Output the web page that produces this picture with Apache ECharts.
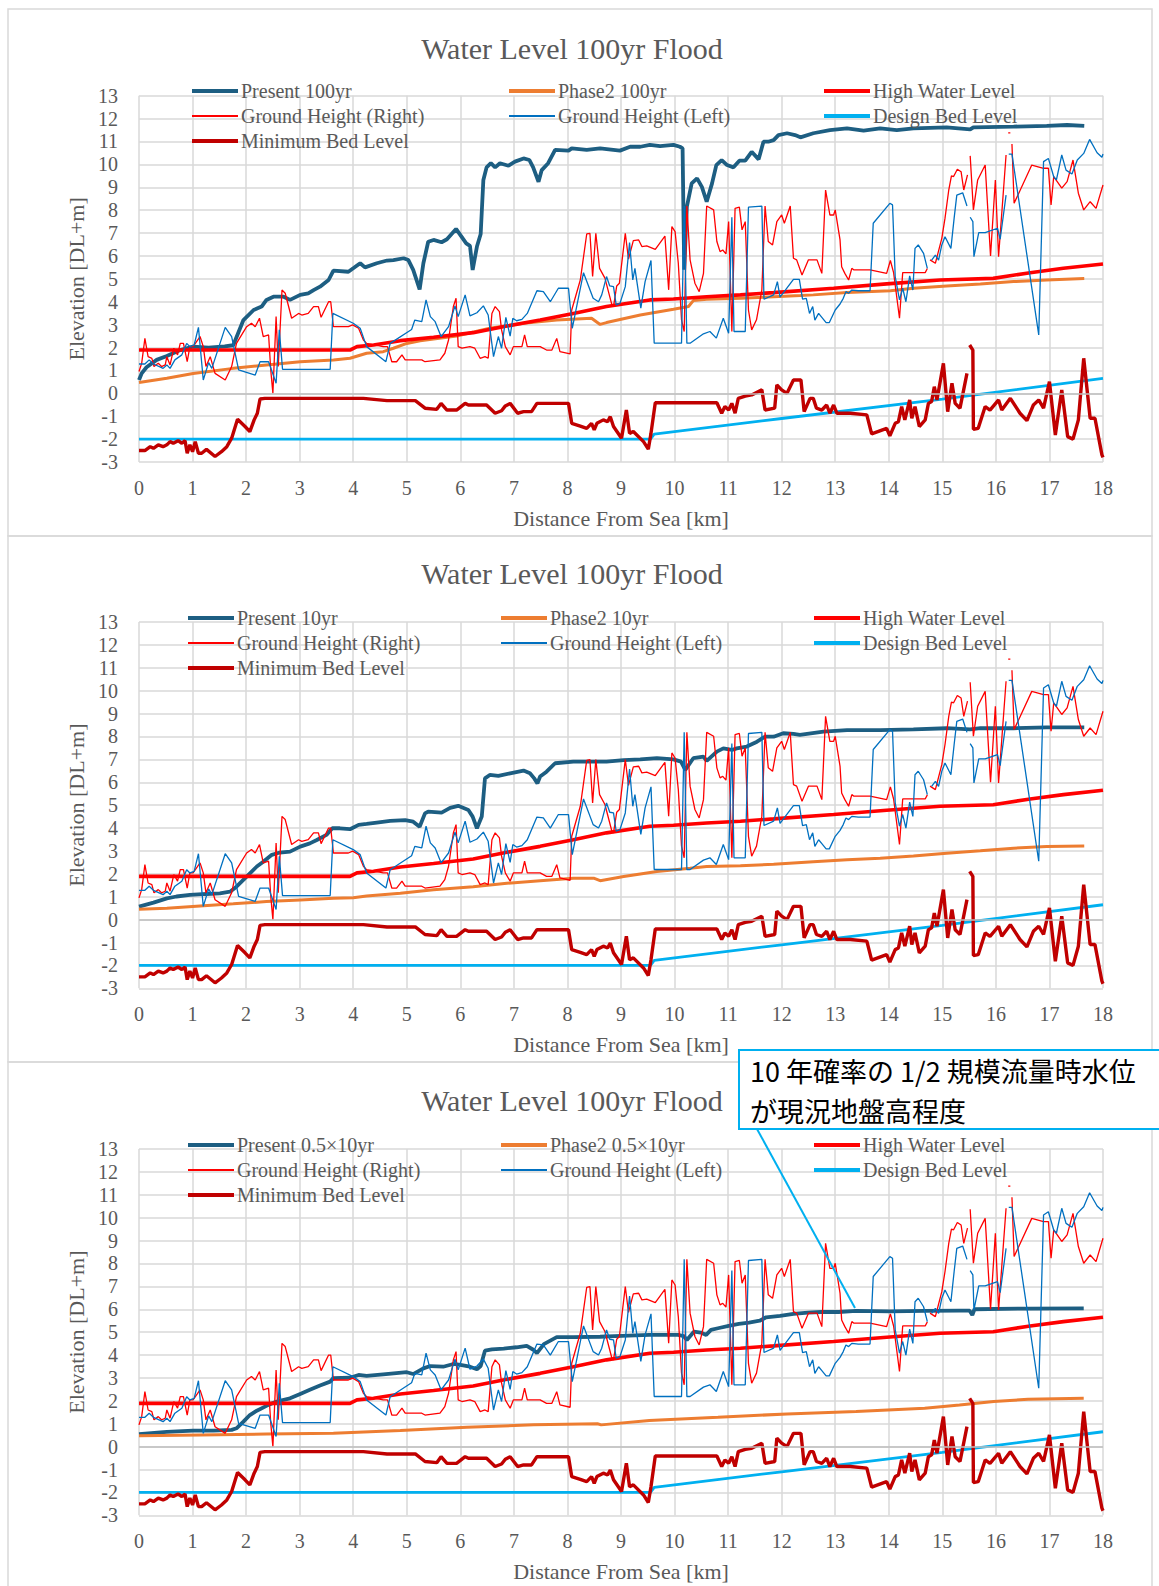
<!DOCTYPE html>
<html><head><meta charset="utf-8">
<script src="https://cdn.jsdelivr.net/npm/echarts@6/dist/echarts.min.js"></script>
<style>html,body{margin:0;padding:0;background:#fff}#c{width:1159px;height:1586px}</style>
</head><body><div id="c"></div>
<script>
// ---------- DATA (distance from sea [km], elevation [DL+m]) ----------
const xTicks = [0,1,2,3,4,5,6,7,8,9,10,11,12,13,14,15,16,17,18];
const yTicks = [-3,-2,-1,0,1,2,3,4,5,6,7,8,9,10,11,12,13];

const present100 = [[0,0.58],[0.05,0.87],[0.14,1.14],[0.33,1.46],[0.52,1.63],[0.77,1.89],[1.01,2.04],[1.3,2.0],[1.6,2.05],[1.76,2.1],[1.95,3.2],[2.14,3.64],[2.29,3.79],[2.38,4.08],[2.51,4.22],[2.7,4.22],[2.82,4.08],[3.01,4.3],[3.16,4.37],[3.26,4.51],[3.38,4.66],[3.54,4.95],[3.63,5.36],[3.91,5.31],[4.0,5.46],[4.13,5.68],[4.22,5.5],[4.44,5.68],[4.63,5.8],[4.75,5.82],[4.94,5.9],[5.03,5.82],[5.12,5.39],[5.24,4.54],[5.31,5.68],[5.4,6.62],[5.5,6.7],[5.65,6.6],[5.75,6.73],[5.92,7.18],[6.11,6.55],[6.18,6.44],[6.23,5.39],[6.31,6.41],[6.38,6.96],[6.43,9.32],[6.49,9.87],[6.57,10.05],[6.65,9.87],[6.74,10.05],[6.9,9.94],[7.02,10.12],[7.18,10.26],[7.29,10.19],[7.36,9.87],[7.46,9.24],[7.52,9.75],[7.64,10.05],[7.77,10.63],[8.02,10.6],[8.08,10.7],[8.36,10.63],[8.61,10.7],[8.98,10.6],[9.17,10.77],[9.36,10.77],[9.54,10.85],[9.73,10.8],[9.98,10.85],[10.1,10.77],[10.15,10.7],[10.18,5.4],[10.23,8.15],[10.32,9.17],[10.42,9.39],[10.51,9.02],[10.6,8.37],[10.7,9.17],[10.78,9.97],[10.88,10.19],[10.98,9.97],[11.1,9.87],[11.21,10.16],[11.32,10.16],[11.44,10.55],[11.57,10.22],[11.66,10.99],[11.75,10.99],[11.85,11.06],[11.94,11.28],[12.1,11.36],[12.25,11.28],[12.35,11.18],[12.59,11.36],[12.9,11.5],[13.22,11.57],[13.53,11.47],[13.84,11.57],[14.15,11.5],[14.46,11.57],[15.08,11.62],[15.52,11.53],[15.58,11.62],[16.33,11.65],[16.95,11.68],[17.33,11.72],[17.65,11.68]];

const phase2_100 = [[0,0.47],[0.52,0.66],[1.01,0.87],[1.76,1.09],[2.38,1.24],[3.01,1.38],[3.63,1.46],[3.94,1.53],[4.25,1.75],[4.56,1.82],[4.75,1.97],[5.0,2.18],[5.25,2.3],[5.5,2.37],[5.93,2.5],[6.55,2.84],[7.18,3.06],[7.8,3.2],[8.45,3.28],[8.61,3.01],[8.73,3.09],[9.36,3.42],[9.98,3.67],[10.26,3.79],[10.35,4.05],[10.6,4.11],[11.23,4.15],[11.85,4.22],[12.35,4.27],[12.59,4.3],[13.22,4.4],[14.03,4.48],[14.46,4.59],[15.08,4.69],[15.71,4.78],[16.33,4.88],[16.95,4.95],[17.65,5.01]];

const present10 = [[0,0.57],[0.27,0.74],[0.52,0.93],[0.7,1.01],[0.95,1.08],[1.26,1.12],[1.51,1.15],[1.7,1.22],[1.82,1.44],[2.01,1.88],[2.2,2.32],[2.32,2.53],[2.48,2.83],[2.63,2.93],[2.82,2.97],[3.01,3.19],[3.19,3.33],[3.32,3.48],[3.5,3.7],[3.61,3.99],[3.75,3.99],[3.94,3.95],[4.1,4.14],[4.25,4.18],[4.44,4.24],[4.69,4.31],[4.97,4.35],[5.12,4.28],[5.24,4.06],[5.34,4.64],[5.4,4.72],[5.65,4.67],[5.81,4.88],[5.96,4.97],[6.15,4.79],[6.23,4.5],[6.31,3.99],[6.4,4.5],[6.46,6.17],[6.55,6.32],[6.71,6.28],[6.93,6.39],[7.18,6.51],[7.3,6.39],[7.38,6.17],[7.44,5.95],[7.49,6.25],[7.61,6.46],[7.77,6.83],[8.11,6.9],[8.73,6.9],[9.05,6.97],[9.36,7.0],[9.67,7.05],[9.98,7.0],[10.12,6.9],[10.2,6.54],[10.35,7.05],[10.54,7.12],[10.6,6.93],[10.79,7.34],[10.91,7.48],[11.07,7.41],[11.16,7.48],[11.35,7.56],[11.54,7.77],[11.69,7.99],[11.85,7.99],[12.03,8.14],[12.22,8.11],[12.34,8.07],[12.78,8.21],[13.22,8.28],[13.84,8.28],[14.46,8.31],[15.08,8.36],[15.52,8.31],[15.71,8.36],[16.33,8.36],[16.95,8.4],[17.65,8.4]];

const phase2_10 = [[0,0.45],[0.52,0.5],[1.14,0.6],[1.76,0.69],[2.38,0.79],[3.01,0.86],[3.63,0.93],[4.0,0.96],[4.25,1.03],[4.88,1.15],[5.5,1.3],[6.24,1.44],[6.87,1.59],[7.49,1.7],[8.11,1.81],[8.49,1.81],[8.61,1.7],[9.05,1.88],[9.67,2.1],[10.29,2.24],[10.6,2.32],[11.23,2.35],[11.85,2.42],[12.59,2.53],[13.22,2.61],[13.84,2.68],[14.46,2.78],[15.08,2.9],[15.71,3.01],[16.33,3.12],[16.95,3.19],[17.65,3.22]];

const present05 = [[0,0.55],[0.52,0.64],[1.01,0.7],[1.39,0.7],[1.73,0.73],[1.82,0.8],[1.95,1.09],[2.07,1.38],[2.2,1.57],[2.38,1.78],[2.57,1.97],[2.82,2.11],[3.01,2.3],[3.19,2.48],[3.38,2.67],[3.57,2.84],[3.63,2.99],[3.94,3.01],[4.1,3.13],[4.25,3.09],[4.56,3.16],[5.0,3.25],[5.12,3.17],[5.31,3.42],[5.44,3.52],[5.68,3.49],[5.87,3.61],[6.0,3.57],[6.18,3.49],[6.31,3.38],[6.38,3.52],[6.46,4.19],[6.59,4.25],[6.81,4.28],[7.05,4.34],[7.24,4.4],[7.37,4.22],[7.43,4.08],[7.56,4.48],[7.8,4.78],[8.11,4.78],[8.61,4.8],[8.88,4.83],[9.53,4.88],[10.07,4.88],[10.17,4.83],[10.23,4.66],[10.36,5.02],[10.49,4.98],[10.59,4.88],[10.68,5.1],[10.81,5.17],[11.01,5.27],[11.2,5.36],[11.39,5.42],[11.59,5.5],[11.71,5.65],[11.97,5.71],[12.22,5.8],[12.49,5.85],[12.74,5.88],[13.06,5.88],[13.39,5.93],[14.03,5.91],[14.67,5.93],[15.32,5.94],[15.51,5.94],[15.56,5.75],[15.6,6.0],[16.6,6.03],[17.64,6.04]];

const phase2_05 = [[0,0.47],[1.14,0.51],[2.38,0.55],[3.63,0.58],[4.88,0.7],[6.12,0.85],[7.37,0.95],[8.56,1.0],[8.63,0.95],[9.53,1.14],[10.81,1.28],[12.1,1.43],[13.39,1.53],[14.67,1.68],[15.32,1.82],[15.96,1.97],[16.6,2.07],[17.64,2.11]];

const highWater = [[0,1.89],[3.94,1.89],[4.07,2.04],[4.38,2.11],[4.88,2.3],[5.5,2.45],[6.24,2.65],[6.87,2.94],[7.49,3.2],[8.11,3.49],[8.73,3.79],[9.54,4.08],[9.98,4.12],[10.6,4.22],[11.23,4.3],[11.85,4.4],[12.97,4.59],[13.96,4.78],[14.96,4.95],[15.95,5.02],[16.64,5.27],[17.26,5.46],[18,5.65]];

const groundRight = [[0,0.95],[0.05,1.31],[0.11,2.4],[0.17,1.6],[0.24,1.53],[0.28,1.17],[0.36,1.31],[0.42,1.17],[0.49,1.24],[0.52,1.6],[0.58,1.24],[0.65,1.97],[0.72,1.68],[0.77,2.18],[0.83,2.18],[0.9,1.38],[0.95,2.04],[1.01,2.04],[1.14,2.48],[1.2,2.04],[1.25,1.17],[1.33,1.6],[1.42,0.87],[1.61,0.58],[1.73,1.17],[1.82,2.18],[2.01,2.91],[2.1,3.06],[2.17,2.91],[2.25,3.28],[2.32,2.48],[2.42,2.55],[2.46,1.02],[2.5,0.0],[2.56,3.35],[2.6,1.17],[2.67,4.51],[2.73,4.37],[2.85,3.28],[2.98,3.49],[3.04,3.42],[3.16,3.49],[3.26,3.79],[3.35,3.79],[3.4,3.32],[3.54,4.0],[3.58,4.0],[3.63,2.91],[3.91,2.91],[3.99,2.99],[4.1,2.84],[4.19,2.33],[4.25,2.18],[4.56,2.04],[4.64,2.04],[4.72,1.38],[4.81,1.38],[4.91,1.68],[4.97,1.46],[5.28,1.46],[5.34,1.38],[5.62,1.46],[5.71,1.75],[5.78,2.33],[5.87,3.79],[5.92,4.15],[5.96,2.04],[6.03,1.97],[6.18,2.04],[6.27,1.97],[6.37,1.53],[6.46,1.6],[6.52,1.53],[6.59,3.49],[6.65,3.79],[6.73,3.57],[6.77,2.77],[6.84,2.04],[6.93,1.68],[6.99,2.04],[7.15,2.04],[7.2,2.55],[7.25,2.04],[7.49,2.04],[7.61,1.89],[7.71,1.89],[7.8,2.4],[7.86,1.82],[8.05,1.72],[8.08,3.64],[8.24,4.95],[8.36,6.96],[8.42,6.99],[8.47,5.1],[8.53,6.99],[8.6,5.46],[8.7,5.03],[8.83,3.86],[8.86,3.79],[8.92,4.69],[8.97,4.81],[9.08,6.99],[9.14,5.86],[9.23,6.67],[9.33,6.7],[9.39,6.41],[9.48,6.44],[9.64,6.29],[9.82,6.87],[9.89,4.52],[9.95,7.28],[10.01,7.06],[10.07,5.68],[10.13,3.21],[10.18,2.7],[10.23,8.18],[10.29,5.83],[10.38,4.81],[10.46,4.44],[10.54,5.24],[10.6,8.18],[10.73,8.01],[10.79,6.63],[10.85,6.19],[10.9,6.26],[10.96,6.09],[11.01,7.5],[11.07,2.7],[11.13,8.08],[11.21,8.13],[11.26,7.14],[11.32,7.5],[11.38,3.64],[11.44,2.77],[11.53,3.21],[11.63,4.52],[11.69,8.18],[11.75,6.63],[11.83,6.48],[11.91,7.5],[12.0,7.79],[12.05,7.43],[12.16,8.18],[12.22,5.9],[12.28,5.83],[12.38,5.17],[12.5,5.83],[12.66,5.83],[12.75,5.24],[12.82,8.88],[12.9,7.79],[12.97,7.79],[13.0,8.01],[13.09,6.7],[13.12,5.53],[13.18,5.24],[13.25,4.95],[13.31,5.46],[13.35,5.39],[13.65,5.39],[13.96,5.24],[14.03,5.8],[14.09,5.27],[14.2,3.28],[14.26,5.27],[14.68,5.27],[14.72,5.45],[14.745,'-'],[14.77,5.83],[14.87,5.68],[14.99,6.77],[15.05,7.65],[15.12,8.88],[15.17,9.5],[15.21,9.47],[15.28,9.79],[15.35,9.68],[15.4,8.88],[15.47,9.54],[15.495,'-'],[15.52,10.37],[15.58,8.01],[15.66,9.32],[15.8,9.97],[15.9,6.0],[15.99,9.32],[16.05,5.97],[16.19,10.41],[16.21,'-'],[16.23,11.38],[16.27,11.38],[16.285,'-'],[16.3,10.89],[16.34,8.3],[16.67,9.97],[16.89,9.83],[16.98,9.83],[17.03,8.23],[17.08,9.47],[17.23,8.96],[17.33,9.25],[17.44,10.19],[17.54,8.74],[17.64,8.01],[17.76,8.37],[17.87,8.08],[18.0,9.1]];

const groundLeft = [[0,1.28],[0.11,1.28],[0.19,1.46],[0.27,1.28],[0.45,1.09],[0.52,1.24],[0.58,1.09],[0.67,1.46],[0.8,1.68],[0.89,2.18],[0.95,2.04],[1.03,2.11],[1.11,2.88],[1.2,0.58],[1.3,1.34],[1.36,1.09],[1.61,2.88],[1.73,2.48],[1.86,1.02],[2.17,0.8],[2.26,1.38],[2.42,1.38],[2.56,0.44],[2.62,2.77],[2.68,1.05],[3.57,1.05],[3.62,3.49],[4.0,3.06],[4.13,2.84],[4.25,2.04],[4.61,1.38],[4.69,2.18],[5.09,2.79],[5.15,3.2],[5.28,3.13],[5.36,4.08],[5.44,3.35],[5.53,3.13],[5.64,2.48],[5.78,2.91],[5.9,3.82],[5.96,3.35],[6.09,4.3],[6.18,3.38],[6.31,3.52],[6.43,3.82],[6.52,3.42],[6.62,1.6],[6.71,2.48],[6.77,1.97],[6.85,3.32],[6.93,2.5],[6.98,3.28],[7.05,3.17],[7.15,3.23],[7.25,3.49],[7.43,4.48],[7.55,4.44],[7.68,4.0],[7.83,4.59],[8.02,4.59],[8.09,2.84],[8.3,5.27],[8.48,4.15],[8.58,4.0],[8.64,4.3],[8.73,5.1],[8.79,4.69],[8.86,4.66],[8.91,3.86],[8.98,3.93],[9.08,4.66],[9.16,6.58],[9.22,4.95],[9.26,5.46],[9.37,3.72],[9.45,4.88],[9.56,5.8],[9.62,2.19],[10.13,2.19],[10.18,8.18],[10.23,2.19],[10.29,2.19],[10.54,2.6],[10.66,2.7],[10.78,2.41],[10.91,3.28],[11.01,2.62],[11.07,7.69],[11.11,2.7],[11.32,2.7],[11.38,8.13],[11.63,8.18],[11.67,4.11],[11.85,4.3],[11.92,4.88],[11.97,4.2],[12.22,4.98],[12.33,4.98],[12.39,4.11],[12.46,4.15],[12.52,3.49],[12.58,3.79],[12.62,3.2],[12.69,3.49],[12.75,3.32],[12.83,3.09],[12.89,3.09],[13.0,3.64],[13.09,3.9],[13.15,4.15],[13.2,4.44],[13.25,4.37],[13.31,4.51],[13.43,4.48],[13.65,4.48],[13.71,7.43],[14.02,8.3],[14.07,8.23],[14.12,5.1],[14.2,4.08],[14.26,4.59],[14.32,4.0],[14.39,5.13],[14.45,4.51],[14.49,6.33],[14.55,6.48],[14.65,6.11],[14.72,5.46],[14.76,'-'],[14.8,5.82],[14.87,6.04],[14.93,5.82],[14.99,6.48],[15.05,6.84],[15.16,6.33],[15.22,7.64],[15.27,8.66],[15.38,8.76],[15.46,8.18],[15.49,'-'],[15.52,7.69],[15.57,7.5],[15.59,5.97],[15.68,7.02],[15.8,7.02],[16.03,7.21],[16.08,6.73],[16.19,8.66],[16.215,'-'],[16.24,10.45],[16.3,10.45],[16.8,2.55],[16.89,10.12],[16.98,10.26],[17.08,9.46],[17.13,9.32],[17.23,10.41],[17.31,9.75],[17.42,9.58],[17.52,10.19],[17.64,10.48],[17.75,11.09],[17.89,10.51],[17.98,10.31],[18.0,10.45]];

const designBed = [[0,-2],[9.55,-2],[9.62,-1.78],[12,-1.1],[15,-0.25],[18,0.65]];

const minBed = [[0,-2.5],[0.11,-2.5],[0.21,-2.33],[0.27,-2.4],[0.36,-2.25],[0.45,-2.33],[0.52,-2.25],[0.58,-2.11],[0.64,-2.18],[0.73,-2.07],[0.8,-2.18],[0.86,-2.07],[0.9,-2.62],[0.95,-2.25],[1.0,-2.55],[1.05,-2.11],[1.11,-2.62],[1.17,-2.62],[1.26,-2.45],[1.42,-2.76],[1.54,-2.55],[1.64,-2.33],[1.73,-1.96],[1.84,-1.13],[1.98,-1.45],[2.07,-1.67],[2.15,-1.16],[2.21,-0.87],[2.26,-0.25],[2.35,-0.22],[4.19,-0.22],[4.63,-0.32],[5.16,-0.32],[5.34,-0.65],[5.56,-0.7],[5.64,-0.44],[5.75,-0.73],[5.93,-0.73],[6.09,-0.44],[6.15,-0.51],[6.49,-0.51],[6.65,-0.87],[6.77,-0.76],[6.84,-0.55],[6.93,-0.44],[7.07,-0.87],[7.18,-0.8],[7.33,-0.8],[7.43,-0.44],[8.02,-0.44],[8.08,-1.31],[8.24,-1.43],[8.36,-1.53],[8.45,-1.31],[8.5,-1.6],[8.55,-1.31],[8.67,-1.16],[8.75,-1.24],[8.8,-1.02],[8.86,-1.45],[9.01,-1.96],[9.1,-0.73],[9.16,-1.75],[9.23,-1.67],[9.42,-2.11],[9.51,-2.44],[9.56,-1.75],[9.64,-0.41],[10.79,-0.41],[10.88,-0.87],[10.94,-0.58],[11.01,-0.73],[11.07,-0.44],[11.13,-0.87],[11.19,-0.22],[11.32,-0.12],[11.44,-0.07],[11.63,0.15],[11.69,-0.73],[11.87,-0.65],[11.91,0.37],[12.0,0.15],[12.1,0.0],[12.22,0.58],[12.36,0.58],[12.42,-0.8],[12.53,-0.22],[12.59,-0.22],[12.65,-0.65],[12.75,-0.73],[12.84,-0.51],[12.9,-0.87],[12.97,-0.51],[13.03,-0.87],[13.28,-0.87],[13.59,-0.94],[13.68,-1.77],[13.96,-1.53],[14.02,-1.86],[14.12,-1.31],[14.18,-1.24],[14.24,-0.58],[14.3,-1.16],[14.39,-0.29],[14.43,-1.09],[14.49,-0.58],[14.57,-1.45],[14.68,-1.16],[14.74,-0.44],[14.8,-0.36],[14.85,0.29],[14.9,-0.29],[15.02,1.31],[15.1,-0.8],[15.18,0.44],[15.24,-0.44],[15.33,-0.65],[15.46,0.87],[15.49,'-'],[15.51,2.11],[15.57,1.89],[15.58,-1.57],[15.67,-1.53],[15.8,-0.58],[15.89,-0.73],[16.05,-0.29],[16.11,-0.73],[16.27,-0.22],[16.45,-0.87],[16.58,-1.19],[16.7,-0.51],[16.8,-0.29],[16.89,-0.65],[17.0,0.51],[17.11,-1.82],[17.23,0.15],[17.34,-1.89],[17.44,-2.0],[17.54,-1.16],[17.64,1.53],[17.76,-1.09],[17.85,-1.09],[17.98,-2.69],[18.0,-2.8]];

const panelTitles = ['Water Level 100yr Flood','Water Level 100yr Flood','Water Level 100yr Flood'];
const presentNames = ['Present 100yr','Present 10yr','Present 0.5×10yr'];
const phase2Names = ['Phase2 100yr','Phase2 10yr','Phase2 0.5×10yr'];
const presentData = [present100, present10, present05];
const phase2Data = [phase2_100, phase2_10, phase2_05];
const xName = 'Distance From Sea [km]';
const yName = 'Elevation [DL+m]';
const noteLines = ['10 年確率の 1/2 規模流量時水位', 'が現況地盤高程度'];

// ---------- STYLE / LAYOUT ----------
const C = {present:'#1d5e82', phase2:'#ed7d31', hwl:'#ff0000', gr:'#ff0000', gl:'#0070c0', design:'#00b0f0', minbed:'#c00000'};
const serif = 'Liberation Serif';
const gray = '#595959';
const THICK = 'path://M0 0H46V4H0Z';
const THIN = 'path://M0 0H46V2H0Z';
const layout = [
  {top:95.7, legendTop:81, legendX:[192,509,824], titleY:48},
  {top:622, legendTop:608, legendX:[188,501,814], titleY:573},
  {top:1149, legendTop:1135, legendX:[188,501,814], titleY:1100}
];

const grids=[], xAxes=[], yAxes=[], series=[], legends=[], graphics=[];
layout.forEach((L,i)=>{
  grids.push({left:139, top:L.top, width:964, height:366.3});
  xAxes.push({gridIndex:i, type:'value', min:xTicks[0], max:xTicks[xTicks.length-1], interval:1,
    axisLine:{show:false}, axisTick:{show:false},
    axisLabel:{fontFamily:serif, fontSize:20, color:gray, margin:16},
    splitLine:{show:true, lineStyle:{color:'#d9d9d9', width:1.5}},
    name:xName, nameLocation:'middle', nameGap:45,
    nameTextStyle:{fontFamily:serif, fontSize:22, color:gray}});
  yAxes.push({gridIndex:i, type:'value', min:yTicks[0], max:yTicks[yTicks.length-1], interval:1,
    axisLine:{show:false}, axisTick:{show:false},
    axisLabel:{fontFamily:serif, fontSize:20, color:gray, margin:21},
    splitLine:{show:true, lineStyle:{color:'#d9d9d9', width:1.5}},
    name:yName, nameLocation:'middle', nameGap:50,
    nameTextStyle:{fontFamily:serif, fontSize:22, color:gray}});
  const mk = (name, data, color, width, extra) => Object.assign({
    type:'line', name, data, xAxisIndex:i, yAxisIndex:i, symbol:'none', showSymbol:false,
    connectNulls:false, silent:true, animation:false,
    lineStyle:{color, width}, itemStyle:{color}}, extra||{});
  series.push(mk(presentNames[i], presentData[i], C.present, 3.8, {
    markLine:{silent:true, symbol:'none', label:{show:false},
      lineStyle:{color:'#bfbfbf', type:'solid', width:1.5}, data:[{yAxis:0}]}}));
  series.push(mk(phase2Names[i], phase2Data[i], C.phase2, 3));
  series.push(mk('High Water Level', highWater, C.hwl, 3.6));
  series.push(mk('Ground Height (Right)', groundRight, C.gr, 1.3));
  series.push(mk('Ground Height (Left)', groundLeft, C.gl, 1.3));
  series.push(mk('Design Bed Level', designBed, C.design, 2.8));
  series.push(mk('Minimum Bed Level', minBed, C.minbed, 3.4));

  const cols = [
    [[presentNames[i],THICK],['Ground Height (Right)',THIN],['Minimum Bed Level',THICK]],
    [[phase2Names[i],THICK],['Ground Height (Left)',THIN]],
    [['High Water Level',THICK],['Design Bed Level',THICK]]
  ];
  cols.forEach((col,ci)=>{
    legends.push({orient:'vertical', left:L.legendX[ci], top:L.legendTop, padding:0,
      itemWidth:46, itemHeight:14, itemGap:5, selectedMode:false, symbolKeepAspect:true,
      textStyle:{fontFamily:serif, fontSize:20, color:gray, lineHeight:20, padding:[0,0,0,-2]},
      data: col.map(([n,ic])=>({name:n, icon:ic}))});
  });
  graphics.push({type:'text', x:572, y:L.titleY, z:10, style:{text:panelTitles[i], font:'30px "Liberation Serif"', fill:gray, textAlign:'center', textVerticalAlign:'middle'}});
});

// panel frames
[[9,527],[536,526],[1062,532]].forEach(([y,h])=>{
  graphics.push({type:'rect', shape:{x:8, y:y, width:1144, height:h}, z:-1, style:{fill:'none', stroke:'#d9d9d9', lineWidth:1.5}});
});
// annotation callout
graphics.push({type:'line', z:20, shape:{x1:757, y1:1129, x2:855, y2:1308}, style:{stroke:'#00b0f0', lineWidth:2}});
graphics.push({type:'rect', z:21, shape:{x:739, y:1050, width:440, height:79}, style:{fill:'#ffffff', stroke:'#00b0f0', lineWidth:2}});
graphics.push({type:'text', z:22, x:750, y:1070, style:{text:noteLines[0], font:'27px "Noto Sans CJK JP"', fill:'#000', textVerticalAlign:'middle'}});
graphics.push({type:'text', z:22, x:750, y:1110, style:{text:noteLines[1], font:'27px "Noto Sans CJK JP"', fill:'#000', textVerticalAlign:'middle'}});

const chart = echarts.init(document.getElementById('c'), null, {renderer:'svg'});
chart.setOption({
  animation:false, backgroundColor:'#ffffff',
  grid:grids, xAxis:xAxes, yAxis:yAxes, legend:legends, series, graphic:graphics
});
</script></body></html>
